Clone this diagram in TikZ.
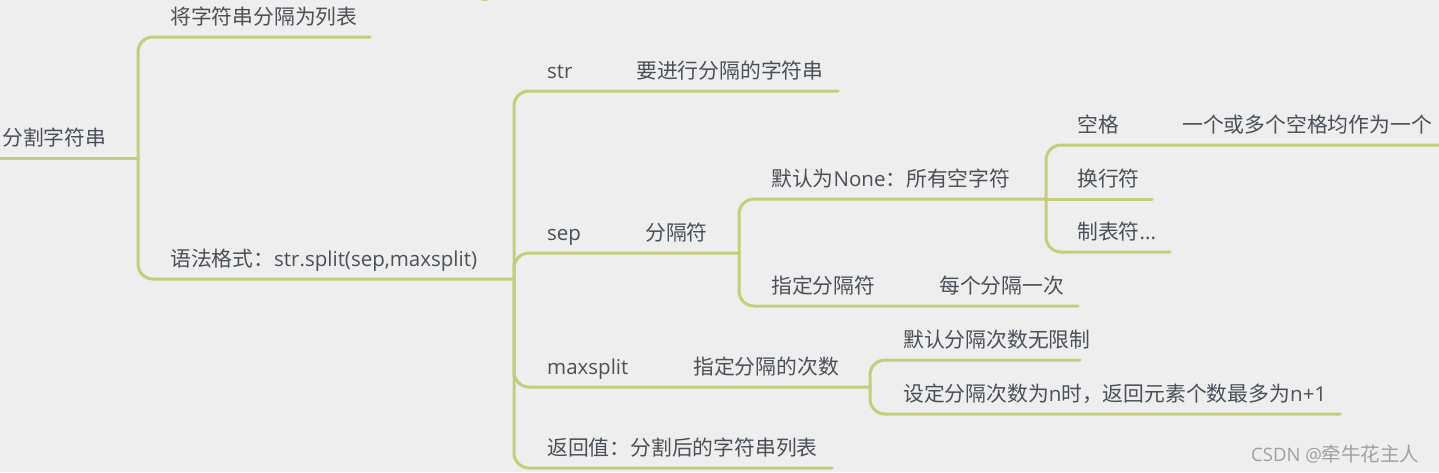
\documentclass[tikz,border=0pt]{standalone}
\usepackage{fontspec}
\setmainfont{Open Sans}
\newfontfamily\cjk{Noto Sans CJK SC}
\newcommand\lt[1]{{\fontsize{20.5}{20.5}\selectfont\rmfamily #1}}
\newcommand\lts[1]{{\fontsize{18.5}{18.5}\selectfont\rmfamily #1}}
\definecolor{bg}{RGB}{238,238,238}
\definecolor{ln}{RGB}{197,204,122}
\definecolor{tx}{RGB}{74,80,88}
\definecolor{wm}{RGB}{160,160,160}
\begin{document}
\begin{tikzpicture}[x=1pt,y=-1pt,
  lbl/.style={anchor=base west,inner sep=0pt,text=tx,font=\fontsize{20.8}{20.8}\selectfont\cjk},
  rootlbl/.style={lbl},
  branch/.style={draw=ln,line width=3pt,rounded corners=15pt,line cap=round},
  wmark/.style={anchor=base west,inner sep=0pt,text=wm,font=\fontsize{19.5}{19.5}\selectfont\cjk}]
\fill[bg] (0,0) rectangle (1439,472);
\useasboundingbox (0,0) rectangle (1439,472);
\fill[ln] (485,-10) circle (11);
% text nodes
\node[rootlbl] (root) at (2,145) {分割字符串};
\node[lbl] (b1) at (170,24) {将字符串分隔为列表};
\node[lbl] (b2) at (170,266) {语法格式：\lt{str.split(sep,maxsplit)}};
\node[lbl] (c1) at (547,78) {\lt{str}};
\node[lbl] (c1n) at (636,78) {要进行分隔的字符串};
\node[lbl] (c2) at (547,240) {\lt{sep}};
\node[lbl] (c2n) at (645,240) {分隔符};
\node[lbl] (c3) at (547,374) {\lt{maxsplit}};
\node[lbl] (c3n) at (693,374) {指定分隔的次数};
\node[lbl] (c4) at (547,455) {返回值：分割后的字符串列表};
\node[lbl] (d1) at (771,186) {默认为\lt{None}：所有空字符};
\node[lbl] (d2) at (771,293) {指定分隔符};
\node[lbl] (d2n) at (939,293) {每个分隔一次};
\node[lbl] (e1) at (1077,132) {空格};
\node[lbl] (e1n) at (1182,132) {一个或多个空格均作为一个};
\node[lbl] (e2) at (1077,186) {换行符};
\node[lbl] (e3) at (1077,239) {制表符\lt{...}};
\node[lbl] (f1) at (903,347) {默认分隔次数无限制};
\node[lbl] (f2) at (903,401) {设定分隔次数为\lt{n}时，返回元素个数最多为\lt{n+1}};
\node[wmark] (wm) at (1251,461) {\lts{CSDN @}牵牛花主人};
% junctions and line ends
\coordinate (r0) at (0,158);
\coordinate (j0) at (138,158);
\coordinate (b1e) at (370,37);
\coordinate (j1) at (514,279);
\coordinate (c1e) at (838,91);
\coordinate (j2) at (739,253);
\coordinate (c3e) at (870,387);
\coordinate (c4e) at (832,468);
\coordinate (j3) at (1046,199);
\coordinate (d2e) at (1078,306);
\coordinate (e1e) at (1442,145);
\coordinate (e2e) at (1152,199);
\coordinate (e3e) at (1170,252);
\coordinate (f1e) at (1080,360);
\coordinate (f2e) at (1340,414);
% connectors
\draw[branch] (r0) -- (j0);
\draw[branch] (j0) |- (b1e);
\draw[branch] (j0) |- (j1);
\draw[branch] (j1) |- (c1e);
\draw[branch] (j1) |- (j2);
\draw[branch] (j1) |- (c3e);
\draw[branch] (j1) |- (c4e);
\draw[branch] (j2) |- (j3);
\draw[branch] (j2) |- (d2e);
\draw[branch] (j3) |- (e1e);
\draw[branch] (j3) -- (e2e);
\draw[branch] (j3) |- (e3e);
\draw[branch] (c3e) |- (f1e);
\draw[branch] (c3e) |- (f2e);
\end{tikzpicture}
\end{document}
